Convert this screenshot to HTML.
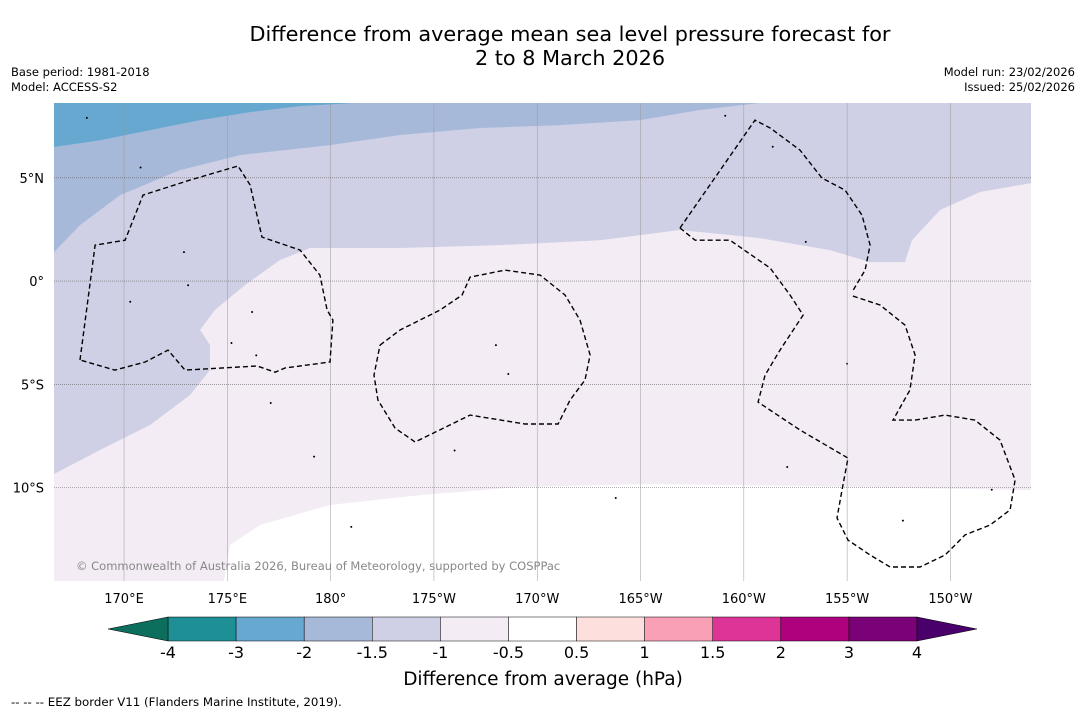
<!DOCTYPE html>
<html><head><meta charset="utf-8">
<style>
body{margin:0;background:#fff;font-family:"DejaVu Sans","Liberation Sans",sans-serif;}
#wrap{position:relative;width:1085px;height:713px;overflow:hidden;background:#fff;}
.t{position:absolute;white-space:nowrap;color:#000;}
</style></head><body>
<div id="wrap">
<div class="t" style="left:0;width:1140px;top:22px;text-align:center;font-size:20.8px;line-height:24px;">Difference from average mean sea level pressure forecast for<br>2 to 8 March 2026</div>
<div class="t" style="left:11px;top:65px;font-size:11.5px;line-height:15px;">Base period: 1981-2018<br>Model: ACCESS-S2</div>
<div class="t" style="right:10px;top:65px;font-size:11.5px;line-height:15px;text-align:right;">Model run: 23/02/2026<br>Issued: 25/02/2026</div>
<svg id="svg" width="1085" height="713" style="position:absolute;left:0;top:0"></svg>
<div class="t" style="left:11px;top:695px;font-size:11.8px;">--  --  -- EEZ border V11 (Flanders Marine Institute, 2019).</div>
</div>
<script>
const lonTicks=[170,175,180,185,190,195,200,205,210];
const lonTickLabels=["170°E","175°E","180°","175°W","170°W","165°W","160°W","155°W","150°W"];
const latTicks=[5,0,-5,-10];
const latTickLabels=["5°N","0°","5°S","10°S"];
const cbBounds=["-4","-3","-2","-1.5","-1","-0.5","0.5","1","1.5","2","3","4"];
const cbColors=["#1f8f96","#66a8cf","#a7b9d9","#cfd0e5","#f3ecf5","#ffffff","#fde0dd","#f99fb6","#dc3497","#ad017e","#7a0177"];
const cbLow="#0c6e5c", cbHigh="#49006a";
const darkBlueEdge=[[166.61,6.49],[168.84,6.82],[171.26,7.31],[173.68,7.79],[176.10,8.18],[178.52,8.47],[181.18,8.62]];
const lightBlueEdge=[[166.61,1.40],[167.87,2.71],[169.81,4.16],[172.71,5.37],[175.61,6.10],[179.97,6.58],[183.36,7.07],[187.23,7.41],[191.10,7.55],[194.98,7.79],[197.88,8.28],[200.78,8.62],[207.56,8.62],[209.74,8.62]];
const lavenderEdge=[[166.61,-9.34],[168.84,-8.18],[171.26,-6.97],[173.19,-5.52],[174.16,-4.31],[174.16,-3.10],[173.68,-2.37],[174.40,-1.40],[175.86,-0.19],[177.55,1.02],[179.00,1.60],[183.36,1.60],[188.20,1.74],[193.04,1.98],[196.91,2.47],[200.78,2.08],[204.17,1.50],[206.11,0.92],[207.80,0.92],[208.14,1.98],[209.50,3.44],[211.43,4.31],[213.90,4.74]];
const whiteEdge=[[174.84,-14.52],[175.13,-12.78],[176.58,-11.81],[179.97,-10.84],[184.33,-10.36],[189.17,-9.97],[195.46,-9.83],[202.72,-9.92],[207.56,-10.02],[213.90,-10.12]];
const eez1=[[167.87,-3.82],[168.60,1.74],[170.05,1.98],[170.92,4.16],[173.19,4.89],[175.52,5.57],[176.10,4.65],[176.68,2.13],[178.52,1.50],[179.48,0.29],[179.83,-1.40],[180.11,-1.89],[179.97,-3.92],[177.79,-4.21],[177.31,-4.41],[176.44,-4.11],[172.95,-4.31],[172.13,-3.34],[171.02,-3.92],[169.56,-4.31],[167.87,-3.82]];
const eez2=[[182.39,-3.10],[183.36,-2.37],[185.30,-1.40],[186.36,-0.68],[186.75,0.19],[188.44,0.53],[190.14,0.29],[191.35,-0.68],[192.07,-1.89],[192.56,-3.58],[192.31,-4.79],[191.59,-5.76],[191.01,-6.92],[189.41,-6.92],[186.75,-6.49],[184.09,-7.79],[183.12,-7.12],[182.29,-5.76],[182.10,-4.55],[182.39,-3.10]];
const eez3a=[[196.91,2.57],[200.54,7.79],[201.27,7.41],[202.72,6.34],[203.78,4.99],[204.90,4.40],[205.72,3.19],[206.11,1.74],[205.87,0.53],[205.24,-0.53]];
const eez3b=[[196.91,2.57],[197.64,1.98],[199.33,1.98],[201.27,0.63],[202.24,-0.68],[202.87,-1.65],[201.75,-3.34],[201.03,-4.55],[200.69,-5.86],[202.72,-7.21],[205.04,-8.57],[204.75,-10.12],[204.51,-11.47],[205.04,-12.54],[206.11,-13.26],[207.08,-13.84],[208.53,-13.84],[209.74,-13.26],[210.71,-12.29],[211.92,-11.81],[212.89,-11.08],[213.13,-9.63],[212.40,-7.70],[211.19,-6.73],[209.74,-6.49],[208.29,-6.73],[207.22,-6.73],[208.04,-5.28],[208.29,-3.58],[207.80,-2.13],[206.59,-1.16],[205.14,-0.68]];
const islands=[[170.3,-1.0],[172.9,1.4],[173.1,-0.2],[176.2,-1.5],[177.1,-5.9],[179.2,-8.5],[181.0,-11.9],[186.0,-8.2],[188.0,-3.1],[188.6,-4.5],[193.8,-10.5],[199.1,8.0],[201.4,6.5],[203.0,1.9],[205.0,-4.0],[202.1,-9.0],[207.7,-11.6],[212.0,-10.1],[175.2,-3.0],[176.4,-3.6],[170.8,5.5],[168.2,7.9]];
const LON0=166.61,LON1=213.9,LAT0=8.62,LAT1=-14.52,X0=54,X1=1031,Y0=103,Y1=581;
const FONT='DejaVu Sans,Liberation Sans,sans-serif';
const xs=l=>X0+(l-LON0)/(LON1-LON0)*(X1-X0);
const ys=l=>Y0+(l-LAT0)/(LAT1-LAT0)*(Y1-Y0);
const svg=document.getElementById('svg');
const NS='http://www.w3.org/2000/svg';
function mk(tag,attrs,parent){const e=document.createElementNS(NS,tag);for(const k in attrs)e.setAttribute(k,attrs[k]);(parent||svg).appendChild(e);return e;}
const pts=a=>a.map(p=>xs(p[0]).toFixed(1)+','+ys(p[1]).toFixed(1)).join(' ');
const clip=mk('clipPath',{id:'mc'});mk('rect',{x:X0,y:Y0,width:X1-X0,height:Y1-Y0},clip);
const g=mk('g',{'clip-path':'url(#mc)'});


let r=mk('rect',{x:X0,y:Y0,width:X1-X0,height:Y1-Y0,fill:cbColors[4]},g);


function band(edge,color,top,name){const e=edge.slice();const first=edge[0],last=edge[edge.length-1];const yl=top?LAT0+1:LAT1-1;
 const poly=[[first[0]-1,first[1]],...e,[last[0]+1,last[1]],[last[0]+1,yl],[first[0]-1,yl]];
 const p=mk('polygon',{points:pts(poly),fill:color},g);
 
 }
band(lavenderEdge,cbColors[3],true,'lavender-region');
band(lightBlueEdge,cbColors[2],true,'light-blue-region');
band(darkBlueEdge,cbColors[1],true,'dark-blue-region');
band(whiteEdge,cbColors[5],false,'white-region');
islands.forEach(p=>{const c=mk('circle',{cx:xs(p[0]),cy:ys(p[1]),r:1,fill:'#000'},g);
 
 });
lonTicks.forEach((l,i)=>{const x=xs(l);const ln=mk('line',{x1:x,x2:x,y1:Y0,y2:Y1,stroke:'#999','stroke-width':0.5},g);
 
 
 const t=mk('text',{x:x,y:603,'font-size':13,'text-anchor':'middle','font-family':FONT});t.textContent=lonTickLabels[i];
 
 });
latTicks.forEach((l,i)=>{const y=ys(l);const ln=mk('line',{x1:X0,x2:X1,y1:y,y2:y,stroke:'#666','stroke-width':0.6,'stroke-dasharray':'1,1'},g);
 
 
 const t=mk('text',{x:44,y:y+5,'font-size':13,'text-anchor':'end','font-family':FONT});t.textContent=latTickLabels[i];
 
 });
[eez1,eez2,eez3a,eez3b].forEach(a=>{const p=mk('polyline',{points:pts(a),fill:'none',stroke:'#000','stroke-width':1.4,'stroke-dasharray':'5,3'},g);
 
 });
const cp=mk('text',{x:76,y:570,'font-size':11.5,fill:'#888','font-family':FONT},g);cp.textContent='© Commonwealth of Australia 2026, Bureau of Meteorology, supported by COSPPac';


const CB0=168,CB1=917,CBY=617,CBH=24,n=cbColors.length,w=(CB1-CB0)/n;
cbColors.forEach((c,i)=>{const b=mk('rect',{x:CB0+i*w,y:CBY,width:w,height:CBH,fill:c,stroke:'#000','stroke-width':0.5});
 
 });
let a1=mk('polygon',{points:`${CB0},${CBY} 108,${CBY+CBH/2} ${CB0},${CBY+CBH}`,fill:cbLow,stroke:'#000','stroke-width':0.5});


let a2=mk('polygon',{points:`${CB1},${CBY} 977,${CBY+CBH/2} ${CB1},${CBY+CBH}`,fill:cbHigh,stroke:'#000','stroke-width':0.5});


cbBounds.forEach((s,i)=>{const t=mk('text',{x:CB0+i*w,y:658,'font-size':16,'text-anchor':'middle','font-family':FONT});t.textContent=s;
 
 });
const at=mk('text',{x:543,y:685,'font-size':18.5,'text-anchor':'middle','font-family':FONT});at.textContent='Difference from average (hPa)';


</script>
</body></html>
